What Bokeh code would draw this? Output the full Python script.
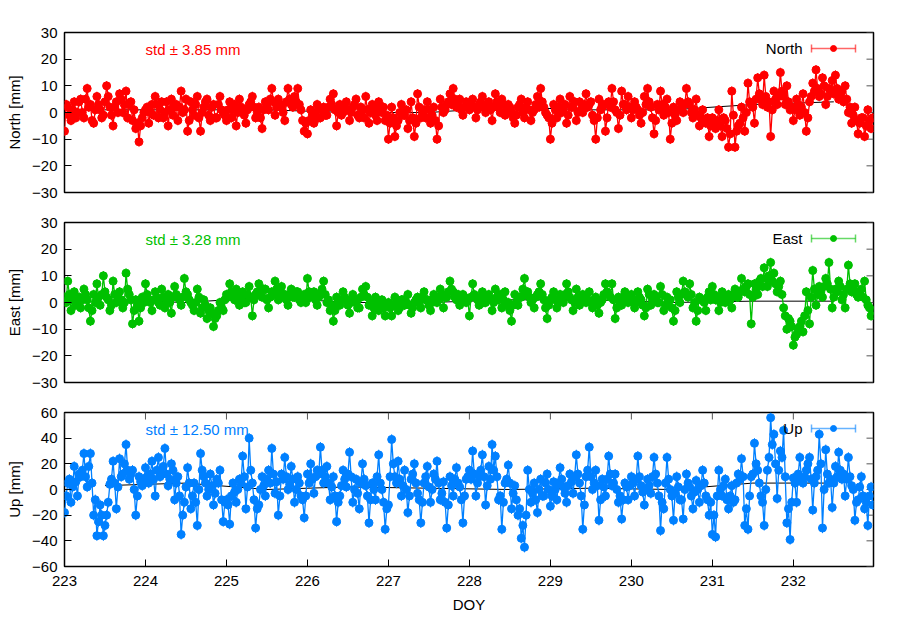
import numpy as np
from bokeh.plotting import figure
from bokeh.layouts import column
from bokeh.models import Range1d, FixedTicker, Label
from bokeh.embed import file_html
from bokeh.resources import INLINE

# ---------------- data ----------------
DOY_START = 223.0
DOY_STEP = 0.02   # sampling interval (days)

north = [
    -7, 3, 2, -1, -3, 1, 4, -2, 0, 4, 5, 0, -2, 5, 9, 2, 3, -3, -4, 1, 6, 3, 1, -2, -1, 4, 10, 6, 2, -1, -5, 2, 4, 0, 7, 5, 0, 3, 8, -2, 3, 4, -3, 1, -6, -4, -11, -5, -2, 0,
    1, 2, -4, 0, 3, -1, 6, 3, -2, 1, 4, -2, 0, 4, -5, 1, 5, -1, 2, 3, -3, 2, 8, 0, 1, 5, -7, -3, 4, 1, -1, 3, 6, -2, -7, 0, 2, 4, 5, -1, -3, 2, 3, -2, -2, 3, 6, 1, 0, -1,
    -3, 1, 4, -2, 1, 3, -5, 0, 5, 2, 0, -1, -4, 1, 3, 4, 6, 2, -2, 0, 2, -2, -6, 1, 4, 3, 1, 5, 9, 4, -1, 2, 5, 3, 2, 0, -3, 4, 9, 5, 3, 2, 6, 4, 9, 3, 1, -3, -7, -4,
    -8, -3, 1, -1, -4, 0, 3, -2, -2, 1, 2, -1, -1, 2, 5, 3, 7, 1, -5, 0, 3, -1, 0, 2, 4, 1, -3, 0, 2, 3, 5, -1, -2, 2, 1, -2, 6, 1, -4, 0, 3, 2, -1, -3, 4, 1, 0, 2, -3, -1,
    -10, -4, 2, -2, -9, -5, -3, 0, 3, -1, -1, 1, -6, -3, 4, -2, -9, -4, 7, 2, -2, 0, 1, -2, 4, 1, -4, -1, 2, -3, -10, -5, 5, 2, 0, 1, 3, 4, 7, 3, 9, 5, 2, 3, 5, 1, -1, 2, 4, 3,
    1, 3, 5, 2, -2, 1, 3, 4, 6, 2, 0, 3, 4, 1, -3, 2, 7, 4, 2, 0, 5, 3, -1, 1, 3, 2, 0, -2, -4, -1, 2, 3, 5, 0, -2, 2, 4, 1, -3, 0, 1, 3, 6, 2, 9, 4, 2, 0, -1, -2,
    -10, -4, 3, 1, -2, 2, 5, 0, 1, 3, -4, -1, 6, 2, 2, 4, -3, 0, 4, 1, 0, 3, 7, 2, 3, 4, -1, -3, -10, -2, 5, 1, 2, 3, -7, -2, 4, 2, 9, 4, 1, 0, -6, -1, 8, 3, 3, 1, 6, 2,
    -2, 1, 4, 2, 1, -1, -4, 0, 6, 3, 9, 4, 2, -2, -8, -3, 3, 1, 8, 3, -1, 2, 5, 0, -10, -4, 2, -1, -3, 1, 4, 2, 0, 3, 9, 4, 3, 0, -2, 1, 5, -1, -5, -2, 1, -3, -4, -2, -9, -5,
    -2, -4, -6, -3, 1, -5, -9, -2, -3, -6, -13, -8, 8, -1, -13, -7, -5, -4, 2, -2, -7, 0, 11, 4, 3, 2, -4, 5, 13, 7, 5, 3, 14, 6, 2, 4, -9, 1, 8, 5, 3, 6, 15, 8, 6, 3, 10, 4, 1, 2,
    -3, 1, 5, 3, -1, 2, 7, 0, -7, -2, 4, 6, 11, 8, 16, 9, 6, 7, 13, 10, 3, 6, 9, 8, 12, 7, 14, 9, 5, 6, 8, 4, 10, 5, 0, 2, -4, -1, 2, -3, -8, -4, -2, -2, -9, -5, 1, -3, -6, -2,
]

east = [
    2, 0, 8, 3, -3, 1, 4, -1, 0, 2, -2, 1, 5, 3, 1, -2, -7, -3, 3, 0, 7, 2, -1, 3, 10, 4, 2, 1, -3, -1, 8, 3, 0, 2, 4, 1, -2, 0, 11, 5, 3, 1, -8, -3, 1, -1, -7, -2, 2, 0,
    7, 3, 1, 0, -3, 1, 4, 2, 0, -1, 5, 2, -2, 1, 3, 0, -4, 2, 6, 3, 2, 1, -1, 2, 9, 4, 3, 1, 0, -1, -3, 0, 5, 2, -4, -2, 1, -1, -6, -3, -2, -4, -9, -6, -5, -3, 0, -2, -3, 1,
    3, 2, 7, 4, 2, 1, 5, 3, -1, 2, 4, 0, 0, 3, 6, 2, -5, 1, 3, 4, 7, 3, 2, 5, 5, 1, -2, 2, 4, 3, 8, 5, 1, 4, 6, 2, 3, 1, -1, 3, 5, 2, 2, 4, 4, 1, 0, 2, 3, 0,
    9, 4, 2, 3, 4, 1, -1, 2, 3, 5, 8, 3, 0, 1, -3, -1, -7, -3, 2, 0, -1, 1, 4, 2, 1, -1, -4, 0, 3, 1, 0, -2, -2, 2, 5, 3, 6, 2, -1, 0, -5, -2, 2, -1, -3, 0, 1, -2, -5, -1,
    0, -2, -5, -1, 2, 0, -3, -2, 1, 1, -1, 0, 3, -1, -4, -2, 0, 1, 2, 0, -2, 2, 4, 1, 1, -1, -3, 0, 3, 2, 0, 1, 5, 3, -2, 2, 2, 4, 8, 5, 4, 2, 1, 3, -1, 1, 3, 2, 0, 1,
    -5, 2, 7, 3, 2, 1, -1, 2, 4, 0, 0, 2, 3, 1, -3, 0, 5, 2, 1, 3, -2, 1, 4, -1, 0, -3, -7, -1, 3, 0, -1, 2, 2, 5, 9, 3, 4, 2, 0, 1, -2, 2, 3, 4, 7, 3, 1, -2, -6, -1,
    1, 2, 4, 1, -2, 0, 3, 2, 0, 3, 7, 4, 2, 1, -3, 0, 5, 2, -1, 1, 3, 2, 0, 1, 4, 0, -2, 1, 2, -1, -4, 0, 1, 3, 7, 4, 3, 2, 7, 1, -6, -2, 2, 0, -1, 2, 4, 1, 0, 2,
    3, 1, -2, 0, 4, 2, 1, -1, -5, -2, 5, 3, -1, 1, 3, 2, 0, 0, 6, 3, -3, -1, 2, 1, 1, -2, -7, -3, 4, 2, 0, 3, 8, 4, 3, 2, 7, 3, -2, 0, -7, -3, 2, 1, 1, 0, -3, 2, 4, 1,
    6, 3, 1, 2, -3, 0, 4, 1, 0, 2, 3, 1, -2, 3, 5, 2, 2, 4, 9, 5, 4, 6, 7, 3, -8, 2, 7, 5, 3, 8, 9, 6, 13, 9, 6, 10, 15, 8, 11, 7, 4, 6, 8, 3, -2, -5, -10, -6, -7, -9,
    -16, -13, -12, -10, -9, -7, -11, -5, 4, -3, -8, 2, 12, 5, -1, 3, 6, 4, 2, 6, 9, 7, 15, 5, -2, 2, 5, 4, 8, 6, 1, 3, -2, 5, 14, 7, 4, 6, 7, 3, 2, 4, 5, 2, 8, 1, -1, -2, -5, -3,
]

up = [
    -18, -5, 5, 8, -10, 2, 18, 6, -5, 12, 10, 15, 28, 10, 2, 18, 28, 5, -20, -8, -36, -25, -12, -20, -36, -28, -20, -10, 4, 8, 22, 5, -15, 2, 24, 10, 12, 20, 35, 15, 8, 12, 15, 0, -20, -5, 10, 6, 3, 8,
    17, 10, 5, 12, 22, 8, -5, 15, 25, 10, 12, 18, 32, 12, 3, 8, 20, 15, -8, 5, 10, -5, -35, -20, -10, 2, 17, 5, -15, -5, 5, -10, -28, 0, 28, 15, 10, 5, -5, 0, 12, 3, -12, -3, 8, 5, 15, -8, -25, -10,
    -8, -12, -27, -5, 5, -2, -10, 0, 8, 5, 26, 10, -15, 2, 40, 15, 5, -8, -30, -15, -12, 0, 10, 3, -5, 8, 15, 5, 32, 12, -3, 6, -20, -5, 12, 8, 25, 10, 0, 4, 18, 8, -10, 0, 10, 5, -5, -8, -22, -5,
    12, 5, 20, 8, -3, 10, 15, 12, 33, 15, 5, 10, 18, 5, -8, 2, 10, -5, -25, -10, -5, 3, 15, 8, 2, 12, 29, 10, -10, 0, 8, -3, -15, 5, 20, 8, 3, -5, -26, -8, 5, 0, -8, 10, 27, 5, 0, -10, -31, -15,
    -12, 10, 39, 20, 10, 5, 22, 8, -5, 3, 15, 0, -18, -5, 8, 12, 20, 5, -3, -8, -26, -10, 5, 10, 18, 2, -10, 0, 12, 8, 22, 5, -8, -3, 6, -10, -30, -12, 10, 3, -5, 8, 17, 5, 2, -8, -26, -5, 8, 10,
    15, 8, 30, 12, -5, 5, 10, 15, 27, 10, -12, 3, 18, 8, 35, 15, 26, 10, -8, -5, -31, -10, 5, 8, 19, 5, -15, -3, 3, -8, -20, -15, -38, -28, -45, -20, 15, 0, -10, -3, 5, -8, -18, 0, 8, -5, -5, 5, 12, 0,
    -13, -5, 6, 0, -8, 5, 17, 8, 2, -3, -10, 3, 12, 6, -3, 10, 27, 12, 5, -5, -31, -12, 10, 15, 33, 10, 0, 5, 15, 3, -24, -8, 8, 2, -5, 8, 26, 12, 3, 5, 12, 0, -10, -5, -23, -8, 5, 2, -8, 3,
    10, 5, -5, 8, 26, 10, 3, -2, -12, 0, 8, 3, -3, 10, 25, 12, 5, -5, -32, -10, -15, 5, 25, 8, 0, -5, -24, -3, 10, 2, -8, -8, -23, 0, 12, 5, 2, -5, -15, -2, 7, 0, -10, 3, 15, 5, -5, -8, -20, -10,
    -35, -20, -37, -5, 15, 0, -5, 3, 8, -8, -15, -5, 3, -10, -8, 5, 12, 8, 24, 10, -28, -15, -31, -5, 10, 12, 36, 20, 15, 5, -5, -10, -28, 0, 15, 25, 56, 35, 43, 20, -7, 15, 30, 25, 46, 10, -26, -15, -39, -10,
    9, 5, -10, 12, 25, 8, 5, 10, 15, 20, 25, 8, -16, 5, 10, 15, 43, 20, -30, 0, 31, 12, 5, 8, -14, 5, 18, 10, 29, 15, 8, 12, -5, 8, 25, 10, 3, 0, -24, -10, -8, 2, 10, -5, -15, -10, -28, -5, 2, -12,
]

# formal error (mm) of each solution, read from the error-bar lengths
north_sigma = 1.8
east_sigma = 1.8
up_sigma = 4.0

# daily mean (black reference line)
mean_doy = [223.5, 224.5, 225.5, 226.5, 227.5, 228.5, 229.5, 230.5, 231.5, 232.5]
north_mean = [1, 1, 1, 0, 0, 2, 1, 1, 3, 4]
east_mean = [1, 0, 2, 0, 0, 1, 1, 0, 0.5, 0.5]
up_mean = [3, 5, 0, 2, 1, 0, 1, 0, 5, 5]

std_values = ["3.85", "3.28", "12.50"]
series_names = ["North", "East", "Up"]
x_ticks = [223, 224, 225, 226, 227, 228, 229, 230, 231, 232]
ne_ticks = [-30, -20, -10, 0, 10, 20, 30]
up_ticks = [-60, -40, -20, 0, 20, 40, 60]

doy = DOY_START + DOY_STEP * np.arange(len(north))

FONT = "Liberation Sans"
FS = "15px"
FRAME_W = 809
TICK = 7


def panel(name, vals, sigma, means, color, lo, hi, yticks, std_txt, height, top, bottom, frame_h, bottom_axis):
    p = figure(width=900, height=height,
               x_range=Range1d(223, 232.99), y_range=Range1d(lo, hi),
               output_backend="svg", toolbar_location=None,
               x_axis_location="below" if bottom_axis else None,
               min_border_left=64, min_border_right=27,
               min_border_top=top, min_border_bottom=bottom)
    p.grid.visible = False
    p.outline_line_color = "black"
    p.outline_line_width = 1.5
    p.background_fill_color = "white"
    p.border_fill_color = "white"
    p.extra_x_ranges = {"px": Range1d(0, FRAME_W)}
    p.extra_y_ranges = {"px": Range1d(0, frame_h)}

    ya = p.yaxis[0]
    ya.ticker = FixedTicker(ticks=yticks)
    ya.major_tick_in = TICK
    ya.major_tick_out = 0
    ya.minor_tick_line_color = None
    ya.axis_line_color = None
    ya.major_tick_line_color = "black"
    ya.major_label_text_font = FONT
    ya.major_label_text_font_size = FS
    ya.major_label_text_color = "black"
    ya.major_label_standoff = 7
    ya.axis_label = f"{name} [mm]"
    ya.axis_label_text_font = FONT
    ya.axis_label_text_font_size = FS
    ya.axis_label_text_font_style = "normal"
    ya.axis_label_text_color = "black"
    ya.axis_label_standoff = 6

    # mirrored ticks on the right edge
    p.segment(x0=[FRAME_W - TICK] * len(yticks), y0=yticks, x1=[FRAME_W] * len(yticks), y1=yticks,
              line_color="#555555", line_width=1, x_range_name="px")

    if bottom_axis:
        xa = p.xaxis[0]
        xa.ticker = FixedTicker(ticks=x_ticks)
        xa.major_tick_in = TICK
        xa.major_tick_out = 0
        xa.minor_tick_line_color = None
        xa.axis_line_color = None
        xa.major_label_text_font = FONT
        xa.major_label_text_font_size = FS
        xa.major_label_text_color = "black"
        xa.major_label_standoff = 9
        xa.axis_label = "DOY"
        xa.axis_label_text_font = FONT
        xa.axis_label_text_font_size = FS
        xa.axis_label_text_font_style = "normal"
        xa.axis_label_text_color = "black"
        xa.axis_label_standoff = 7
        # mirrored ticks on the top edge
        p.segment(x0=x_ticks, y0=[frame_h - TICK] * len(x_ticks), x1=x_ticks, y1=[frame_h] * len(x_ticks),
                  line_color="#555555", line_width=1, y_range_name="px")

    v = np.asarray(vals, dtype=float)
    # black daily-mean line underneath
    p.line(mean_doy, means, line_color="black", line_width=1)
    # the series: error bars, connecting line, points
    p.segment(x0=doy, y0=v - sigma, x1=doy, y1=v + sigma, line_color=color, line_width=1)
    p.line(doy, v, line_color=color, line_width=1.3)
    p.scatter(doy, v, marker="circle", size=8, fill_color=color, line_color=color)

    # legend (gnuplot style: text left of sample)
    ly = frame_h - 16
    p.add_layout(Label(x=738, y=ly, x_range_name="px", y_range_name="px", text=name,
                       text_align="right", text_baseline="middle",
                       text_font=FONT, text_font_size=FS, text_color="black"))
    p.segment(x0=[747], y0=[ly], x1=[791], y1=[ly], line_color=color, line_alpha=0.6,
              line_width=1.5, x_range_name="px", y_range_name="px")
    p.segment(x0=[747, 791], y0=[ly - 4, ly - 4], x1=[747, 791], y1=[ly + 4, ly + 4],
              line_color=color, line_alpha=0.6, line_width=1.5, x_range_name="px", y_range_name="px")
    p.scatter([769], [ly], marker="circle", size=6, fill_color=color, line_color=color,
              x_range_name="px", y_range_name="px")

    # std text
    p.add_layout(Label(x=81, y=frame_h - 17, x_range_name="px", y_range_name="px",
                       text=f"std \u00b1 {std_txt} mm", text_align="left", text_baseline="middle",
                       text_font=FONT, text_font_size=FS, text_color=color))
    return p


p1 = panel(series_names[0], north, north_sigma, north_mean, "#ff0000", -30, 30, ne_ticks, std_values[0],
           207, 32, 15, 160, False)
p2 = panel(series_names[1], east, east_sigma, east_mean, "#00c000", -30, 30, ne_ticks, std_values[1],
           190, 15, 15, 160, False)
p3 = panel(series_names[2], up, up_sigma, up_mean, "#0080ff", -60, 60, up_ticks, std_values[2],
           233, 15, 64, 154, True)

p1.add_layout(Label(x=404, y=182, x_range_name="px", y_range_name="px",
                    text="Coordinate repeatability of COTE", text_align="center",
                    text_baseline="middle", text_font=FONT, text_font_size=FS, text_color="black"))
p3.add_layout(Label(x=-56, y=-56, x_range_name="px", y_range_name="px",
                    text="22/08/26 14:04", text_align="left",
                    text_baseline="middle", text_font=FONT, text_font_size=FS, text_color="black"))

layout = column(p1, p2, p3, spacing=0)
open("out.html", "w").write(file_html(layout, INLINE))
